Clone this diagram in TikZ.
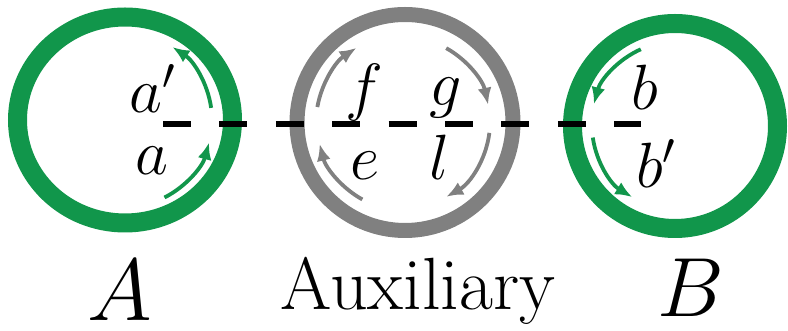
\RequirePackage{fix-cm}
\documentclass[tikz,border=0pt]{standalone}
\usetikzlibrary{arrows.meta,calc}
\definecolor{ringgreen}{RGB}{17,150,75}
\definecolor{ringgray}{RGB}{128,128,128}

\begin{document}
\begin{tikzpicture}[
  x=0.5pt, y=0.5pt,
  >={Latex[length=8.5pt,width=7pt]},
  ring/.style={line width=9.5pt, draw=ringgreen},
  auxring/.style={line width=7.5pt, draw=ringgray},
  arr/.style={->, line width=1.9pt, draw=ringgreen},
  auxarr/.style={arr, draw=ringgray},
  lbl/.style={font=\fontsize{32}{35}\selectfont, anchor=base, inner sep=0pt},
  tag/.style={anchor=base, inner sep=0pt},
  cut/.style={line width=2.6pt, dash pattern=on 14pt off 14.2pt},
]
\useasboundingbox (0,0) rectangle (788,331);

% ---------- ring centres ----------
\coordinate (cA) at (125,211);
\coordinate (cX) at (405,208.5);
\coordinate (cB) at (675,205);

% ---------- rings ----------
\draw[ring] (cA) ellipse [x radius=107.5, y radius=103];
\draw[auxring] (cX) circle [radius=108];
\draw[ring] (cB) circle [radius=102.5];

% ---------- dashed cut through all three ----------
\coordinate (cutL) at (163,207);
\coordinate (cutR) at (641,207);
\draw[cut] (cutL) -- (cutR);

% ---------- circulation arrows ----------
\draw[arr] ($(cA)+(8:87)$) arc[start angle=8, end angle=57, radius=87];
\draw[arr] ($(cA)+(-63:87)$) arc[start angle=-63, end angle=-15, radius=87];

\draw[auxarr] ($(cX)+(170:89)$) arc[start angle=170, end angle=123, radius=89];
\draw[auxarr] ($(cX)+(61:85)$) arc[start angle=61, end angle=12, radius=85];
\draw[auxarr] ($(cX)+(241:88)$) arc[start angle=241, end angle=194, radius=88];
\draw[auxarr] ($(cX)+(-7:85)$) arc[start angle=-7, end angle=-61, radius=85];

\draw[arr] ($(cB)+(114:84)$) arc[start angle=114, end angle=165, radius=84];
\draw[arr] ($(cB)+(188:83)$) arc[start angle=188, end angle=239, radius=83];

% ---------- mode labels ----------
\node[lbl] (ap) at (153,218) {$a'$};
\node[lbl] (a)  at (152,156) {$a$};
\node[lbl] (f)  at (364,222) {$f$};
\node[lbl] (g)  at (446,225) {$g$};
\node[lbl] (e)  at (365,151) {$e$};
\node[lbl] (l)  at (440,151) {$l$};
\node[lbl] (b)  at (645,221) {$b$};
\node[lbl] (bp) at (656,143) {$b'$};

% ---------- ring names ----------
\node[tag, font=\fontsize{44}{48}\selectfont] (nA) at (120,10) {$A$};
\node[tag, font=\fontsize{37}{42}\selectfont] (nX) at (418,21) {Auxiliary};
\node[tag, font=\fontsize{42}{46}\selectfont] (nB) at (691,14) {$B$};

\end{tikzpicture}
\end{document}
